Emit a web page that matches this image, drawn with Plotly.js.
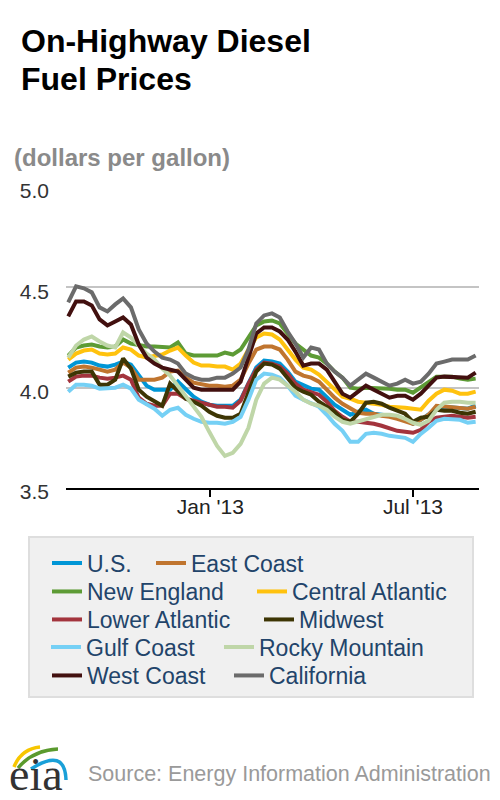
<!DOCTYPE html>
<html>
<head>
<meta charset="utf-8">
<script src="https://cdn.plot.ly/plotly-3.0.1.min.js"></script>
<style>
html,body{margin:0;padding:0;background:#ffffff;}
#chart{width:500px;height:800px;}
</style>
</head>
<body>
<div id="chart"></div>
<script>
// ---------------- DATA (weekly, dollars per gallon) ----------------
const weeks = ['2012-08-27','2012-09-03','2012-09-10','2012-09-17','2012-09-24','2012-10-01','2012-10-08','2012-10-15','2012-10-22','2012-10-29',
'2012-11-05','2012-11-12','2012-11-19','2012-11-26','2012-12-03','2012-12-10','2012-12-17','2012-12-24','2012-12-31','2013-01-07',
'2013-01-14','2013-01-21','2013-01-28','2013-02-04','2013-02-11','2013-02-18','2013-02-25','2013-03-04','2013-03-11','2013-03-18',
'2013-03-25','2013-04-01','2013-04-08','2013-04-15','2013-04-22','2013-04-29','2013-05-06','2013-05-13','2013-05-20','2013-05-27',
'2013-06-03','2013-06-10','2013-06-17','2013-06-24','2013-07-01','2013-07-08','2013-07-15','2013-07-22','2013-07-29','2013-08-05',
'2013-08-12','2013-08-19','2013-08-26'];

const seriesNames = ['U.S.','East Coast','New England','Central Atlantic','Lower Atlantic','Midwest','Gulf Coast','Rocky Mountain','West Coast','California'];

const usPrices = [4.10,4.125,4.13,4.125,4.11,4.105,4.115,4.13,4.115,4.06,
4.01,3.99,3.99,3.99,4.03,3.99,3.955,3.93,3.915,3.91,
3.91,3.91,3.94,4.02,4.10,4.135,4.13,4.12,4.08,4.03,
4.01,3.995,3.99,3.955,3.915,3.89,3.865,3.88,3.89,3.87,
3.865,3.86,3.855,3.84,3.82,3.84,3.87,3.895,3.905,3.90,
3.90,3.895,3.91];

const eastCoast = [4.075,4.10,4.105,4.10,4.09,4.08,4.09,4.125,4.10,4.04,
4.04,4.04,4.05,4.08,4.085,4.05,4.025,4.015,4.01,4.01,
4.005,4.01,4.04,4.12,4.19,4.205,4.205,4.19,4.14,4.08,
4.06,4.05,4.03,3.99,3.95,3.92,3.90,3.875,3.87,3.87,
3.86,3.855,3.845,3.835,3.82,3.84,3.865,3.91,3.905,3.905,
3.90,3.895,3.905];

const newEngland = [4.16,4.20,4.21,4.215,4.205,4.20,4.205,4.24,4.22,4.21,
4.205,4.205,4.205,4.20,4.225,4.17,4.16,4.16,4.16,4.16,
4.175,4.165,4.19,4.25,4.31,4.33,4.335,4.32,4.27,4.22,
4.19,4.16,4.15,4.12,4.08,4.05,4.00,3.995,4.00,4.00,
4.00,3.995,3.99,3.99,3.975,4.00,4.03,4.055,4.055,4.055,
4.045,4.04,4.045];

const centralAtlantic = [4.14,4.17,4.185,4.19,4.17,4.165,4.17,4.20,4.19,4.16,
4.15,4.155,4.165,4.185,4.20,4.16,4.125,4.11,4.11,4.105,
4.105,4.09,4.12,4.19,4.25,4.27,4.265,4.24,4.19,4.14,
4.10,4.09,4.065,4.03,3.99,3.955,3.945,3.93,3.925,3.92,
3.915,3.905,3.905,3.90,3.895,3.89,3.935,3.97,3.99,3.985,
3.97,3.97,3.98];

const lowerAtlantic = [4.03,4.055,4.06,4.06,4.05,4.045,4.05,4.06,4.04,3.95,
3.92,3.91,3.91,3.97,3.97,3.945,3.935,3.925,3.915,3.905,
3.905,3.90,3.935,4.02,4.09,4.125,4.12,4.105,4.07,4.02,
3.99,3.98,3.965,3.93,3.885,3.855,3.83,3.83,3.825,3.82,
3.81,3.795,3.785,3.78,3.775,3.79,3.83,3.85,3.855,3.86,
3.855,3.85,3.855];

const midwest = [4.055,4.075,4.08,4.08,4.015,4.015,4.04,4.145,4.095,3.99,
3.955,3.93,3.91,4.02,3.98,3.945,3.93,3.91,3.88,3.86,
3.85,3.85,3.87,3.98,4.08,4.12,4.115,4.095,4.05,4.00,
3.98,3.965,3.93,3.905,3.88,3.84,3.83,3.87,3.925,3.93,
3.92,3.90,3.885,3.87,3.83,3.85,3.855,3.89,3.885,3.885,
3.875,3.87,3.88];

const gulfCoast = [3.98,4.015,4.015,4.01,3.995,3.995,4.00,4.015,3.995,3.94,
3.915,3.895,3.86,3.89,3.90,3.865,3.845,3.83,3.825,3.825,
3.82,3.83,3.855,3.94,4.04,4.07,4.065,4.05,4.01,3.96,
3.94,3.925,3.905,3.865,3.82,3.785,3.73,3.73,3.77,3.775,
3.77,3.76,3.755,3.75,3.73,3.77,3.80,3.835,3.845,3.845,
3.84,3.825,3.83];

const rockyMountain = [4.15,4.21,4.24,4.255,4.23,4.21,4.20,4.275,4.25,4.21,
4.17,4.14,4.095,4.06,4.01,3.955,3.905,3.855,3.78,3.71,
3.66,3.675,3.72,3.80,3.94,4.02,4.05,4.04,4.01,3.98,
3.94,3.92,3.91,3.89,3.855,3.83,3.82,3.83,3.84,3.855,
3.865,3.865,3.86,3.845,3.825,3.815,3.835,3.89,3.925,3.93,
3.93,3.925,3.925];

const westCoast = [4.355,4.43,4.43,4.41,4.34,4.31,4.33,4.35,4.315,4.215,
4.15,4.12,4.10,4.09,4.08,4.04,4.00,3.99,3.99,3.99,
3.99,3.99,4.03,4.155,4.27,4.30,4.30,4.28,4.24,4.18,
4.11,4.12,4.12,4.09,4.03,3.97,3.95,3.98,4.01,3.99,
3.97,3.95,3.96,3.96,3.94,3.97,4.01,4.05,4.055,4.055,
4.055,4.05,4.075];

const california = [4.425,4.505,4.495,4.475,4.40,4.38,4.415,4.445,4.40,4.29,
4.22,4.18,4.15,4.14,4.12,4.07,4.05,4.04,4.04,4.05,
4.05,4.07,4.10,4.19,4.32,4.36,4.37,4.35,4.28,4.22,
4.15,4.20,4.19,4.12,4.08,4.05,4.01,4.04,4.07,4.05,
4.03,4.01,4.02,4.04,4.02,4.03,4.07,4.12,4.13,4.14,
4.14,4.14,4.16];

const tickDates = ['2013-01-01','2013-07-01'];
const tickLabels = ["Jan '13","Jul '13"];
const yTicks = [3.5,4.0,4.5,5.0];

// ---------------- STYLE / LAYOUT ----------------
const FONT = '"Liberation Sans", Arial, Helvetica, sans-serif';
const seriesValues = [usPrices,eastCoast,newEngland,centralAtlantic,lowerAtlantic,midwest,gulfCoast,rockyMountain,westCoast,california];
const seriesColors = ['#0096d6','#c0752f','#5d9b35','#ffc20e','#a3343d','#3d3504','#75d0f5','#bfd6a8','#42100f','#6b6b6b'];

// plot area in pixels
const P = {l:66, r:479, t:187, b:488};
const fx = px => (px - P.l) / (P.r - P.l);
const fy = py => (P.b - py) / (P.b - P.t);

// legend entries: [text left px, row centre px]
const legendSpots = [[87,563],[191,563],[87,591.5],[292,591.5],[87,619.5],[299,619.5],[86,647],[259,647],[87,675.5],[269,675.5]];

const traces = seriesNames.map((name,i) => ({
  type:'scatter', mode:'lines', name:name,
  x:weeks, y:seriesValues[i],
  line:{color:seriesColors[i], width:4},
  legend: i === 0 ? 'legend' : 'legend' + (i+1),
  hoverinfo:'skip'
}));

const layout = {
  width:500, height:800,
  paper_bgcolor:'#ffffff', plot_bgcolor:'#ffffff',
  font:{family:FONT, color:'#333333'},
  margin:{l:P.l, r:500-P.r, t:P.t, b:800-P.b, pad:0, autoexpand:false},
  xaxis:{
    type:'date', range:['2012-08-25','2013-08-29'],
    tickmode:'array', tickvals:tickDates, ticktext:tickLabels,
    showgrid:false, zeroline:false,
    showline:true, linecolor:'#000000', linewidth:2,
    ticks:'outside', ticklen:7, tickwidth:2, tickcolor:'#000000',
    ticklabelstandoff:-8,
    tickfont:{family:FONT, size:21, color:'#222222'},
    fixedrange:true
  },
  yaxis:{
    range:[3.5,5.0], tickmode:'array', tickvals:yTicks, tickformat:'.1f',
    showgrid:true, gridcolor:'#c4c4c4', gridwidth:2,
    zeroline:false, showline:false, ticks:'',
    ticklabelstandoff:16, ticklabelshift:4,
    tickfont:{family:FONT, size:21, color:'#333333'},
    fixedrange:true
  },
  showlegend:true,
  shapes:[
    {type:'rect', xref:'paper', yref:'paper', layer:'below',
     x0:fx(29), x1:fx(473), y0:fy(697), y1:fy(537),
     fillcolor:'#f0f0f0', line:{color:'#dedede', width:2}},
    // eia logo swooshes
    {type:'path', xref:'paper', yref:'paper',
     path:`M ${fx(14)},${fy(767)} Q ${fx(21)},${fy(749)} ${fx(40)},${fy(747)}`,
     line:{color:'#f7c600', width:3.5}},
    {type:'path', xref:'paper', yref:'paper',
     path:`M ${fx(18)},${fy(768)} Q ${fx(33)},${fy(750)} ${fx(58)},${fy(749)}`,
     line:{color:'#5a9a2e', width:3.5}},
    {type:'path', xref:'paper', yref:'paper',
     path:`M ${fx(31)},${fy(769)} Q ${fx(65)},${fy(747)} ${fx(66)},${fy(780)}`,
     line:{color:'#1aa0d8', width:3.5}}
  ],
  annotations:[
    {text:'<b>On-Highway Diesel</b>', xref:'paper', yref:'paper', x:fx(19), y:fy(41),
     xanchor:'left', yanchor:'middle', showarrow:false,
     font:{family:FONT, size:32, color:'#000000'}},
    {text:'<b>Fuel Prices</b>', xref:'paper', yref:'paper', x:fx(19), y:fy(79),
     xanchor:'left', yanchor:'middle', showarrow:false,
     font:{family:FONT, size:32, color:'#000000'}},
    {text:'<b>(dollars per gallon)</b>', xref:'paper', yref:'paper', x:fx(12), y:fy(158),
     xanchor:'left', yanchor:'middle', showarrow:false,
     font:{family:FONT, size:24, color:'#8a8a8a'}},
    {text:'eia', xref:'paper', yref:'paper', x:fx(7), y:fy(774),
     xanchor:'left', yanchor:'middle', showarrow:false,
     font:{family:'"Liberation Serif", "DejaVu Serif", serif', size:46, color:'#333333'}},
    {text:'Source: Energy Information Administration', xref:'paper', yref:'paper', x:fx(86), y:fy(774),
     xanchor:'left', yanchor:'middle', showarrow:false,
     font:{family:FONT, size:21.5, color:'#9a9a9a'}}
  ]
};

legendSpots.forEach((s,i) => {
  const key = i === 0 ? 'legend' : 'legend' + (i+1);
  layout[key] = {
    x:fx(s[0]-40), y:fy(s[1]), xref:'paper', yref:'paper',
    xanchor:'left', yanchor:'middle', orientation:'h',
    bgcolor:'rgba(0,0,0,0)', borderwidth:0,
    font:{family:FONT, size:23, color:'#22446a'},
    itemclick:false, itemdoubleclick:false
  };
});

Plotly.newPlot('chart', traces, layout, {displayModeBar:false, staticPlot:true});
</script>
</body>
</html>
